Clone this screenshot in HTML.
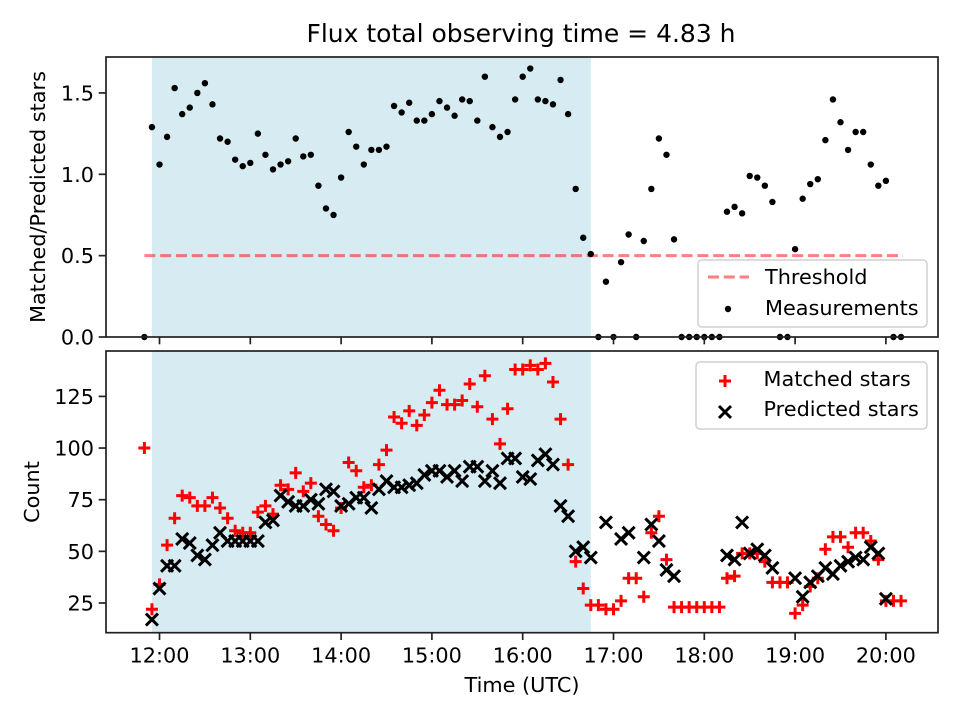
<!DOCTYPE html>
<html><head><meta charset="utf-8"><style>
html,body{margin:0;padding:0;background:#fff;}
svg{display:block;font-family:"DejaVu Sans","Liberation Sans",sans-serif;}
</style></head><body>
<svg id="fig" width="960" height="720" viewBox="0 0 960 720" xmlns="http://www.w3.org/2000/svg"></svg>
<script>
const times = ["11:50","11:55","12:00","12:05","12:10","12:15","12:20","12:25","12:30","12:35","12:40","12:45","12:50","12:55","13:00","13:05","13:10","13:15","13:20","13:25","13:30","13:35","13:40","13:45","13:50","13:55","14:00","14:05","14:10","14:15","14:20","14:25","14:30","14:35","14:40","14:45","14:50","14:55","15:00","15:05","15:10","15:15","15:20","15:25","15:30","15:35","15:40","15:45","15:50","15:55","16:00","16:05","16:10","16:15","16:20","16:25","16:30","16:35","16:40","16:45","16:50","16:55","17:00","17:05","17:10","17:15","17:20","17:25","17:30","17:35","17:40","17:45","17:50","17:55","18:00","18:05","18:10","18:15","18:20","18:25","18:30","18:35","18:40","18:45","18:50","18:55","19:00","19:05","19:10","19:15","19:20","19:25","19:30","19:35","19:40","19:45","19:50","19:55","20:00","20:05","20:10"];
const ratio = [0,1.29,1.06,1.23,1.53,1.37,1.41,1.50,1.56,1.43,1.22,1.20,1.09,1.05,1.07,1.25,1.12,1.03,1.06,1.08,1.22,1.11,1.12,0.93,0.79,0.75,0.98,1.26,1.17,1.06,1.15,1.15,1.17,1.42,1.38,1.44,1.33,1.33,1.37,1.45,1.41,1.36,1.46,1.45,1.33,1.60,1.29,1.23,1.26,1.46,1.60,1.65,1.46,1.45,1.43,1.58,1.37,0.91,0.61,0.51,0,0.34,0,0.46,0.63,0,0.59,0.91,1.22,1.12,0.60,0,0,0,0,0,0,0.77,0.80,0.76,0.99,0.98,0.93,0.83,0,0,0.54,0.85,0.94,0.97,1.21,1.46,1.32,1.15,1.26,1.26,1.06,0.93,0.96,0,0];
const matched = [100,22,34,53,66,77,76,72,72,76,71,66,60,59,59,69,72,68,82,80,88,79,83,67,63,60,71,93,89,81,82,92,99,115,112,118,111,116,122,128,121,121,123,131,120,135,114,102,119,138,138,140,138,141,132,114,92,45,32,24,24,22,22,26,37,37,28,59,67,46,23,23,23,23,23,23,23,37,38,49,49,49,45,35,35,35,20,24,33,37,51,57,57,52,59,59,55,46,26,26,26];
const predicted = [null,17,32,43,43,56,54,48,46,53,59,55,55,55,55,55,64,65,77,74,72,72,75,73,80,79,72,73,76,76,71,80,84,81,81,82,83,87,89,89,86,89,84,91,91,84,89,83,95,95,86,85,94,97,92,72,67,50,52,47,null,64,null,56,59,null,47,63,55,41,38,null,null,null,null,null,null,48,46,64,49,51,48,42,null,null,37,28,35,38,42,39,43,45,47,46,52,49,27,null,null];
const topTicks = [0.0,0.5,1.0,1.5];
const botTicks = [25,50,75,100,125];
const xTicks = ["12:00","13:00","14:00","15:00","16:00","17:00","18:00","19:00","20:00"];
const threshold = 0.5;
const spanStart = "11:55", spanEnd = "16:45";

const NS="http://www.w3.org/2000/svg";
const svg=document.getElementById('fig');
function el(tag,attrs,parent){const e=document.createElementNS(NS,tag);for(const k in attrs)e.setAttribute(k,attrs[k]);(parent||svg).appendChild(e);return e;}
function hrs(t){const p=t.split(':');return +p[0]+ +p[1]/60;}
const L=106,R=938;
const FS='20.8px';
function X(t){return 159.5+(hrs(t)-12)*90.8;}
const TT=57,TB=337; function YT(v){return 337-v*162.7;}
const BT=351,BB=632.7; function YB(v){return 603-(v-25)*2.066;}

let t=el('text',{x:521,y:42,'text-anchor':'middle','font-size':'25px',fill:'#000'});
t.textContent='Flux total observing time = 4.83 h';



function panel(top,bot,name){
  const g=el('g',{});
  
  
  const sp=el('rect',{x:X(spanStart),y:top,width:X(spanEnd)-X(spanStart),height:bot-top,fill:'#add8e6','fill-opacity':0.5},g);
  
  
  return g;
}
function frame(top,bot,g,labels){
  el('rect',{x:L,y:top,width:R-L,height:bot-top,fill:'none',stroke:'#222','stroke-width':1.7},g);
  xTicks.forEach(tk=>{
    const x=X(tk);
    el('line',{x1:x,x2:x,y1:bot,y2:bot+7.3,stroke:'#222','stroke-width':1.7},g);
    if(labels){const tx=el('text',{x:x,y:bot+30,'text-anchor':'middle','font-size':FS},g);tx.textContent=tk;
      
      }
  });
}
const gt=panel(TT,TB,'ratio-panel');
const th=el('line',{x1:X("11:50"),x2:X("20:10")+2,y1:YT(threshold),y2:YT(threshold),stroke:'#ff0000','stroke-opacity':0.5,'stroke-width':3,'stroke-dasharray':'11,4.8'},gt);


ratio.forEach((v,i)=>{
  if(v===null)return;
  const c=el('circle',{cx:X(times[i]),cy:YT(v),r:3.2,fill:'#000'},gt);
  
  
});
frame(TT,TB,gt,false);
topTicks.forEach(v=>{
  const y=YT(v);
  el('line',{x1:L-7.3,x2:L,y1:y,y2:y,stroke:'#222','stroke-width':1.7},gt);
  const tx=el('text',{x:L-12,y:y+7.5,'text-anchor':'end','font-size':FS},gt);tx.textContent=v.toFixed(1);
  
  
});
let yl=el('text',{transform:'translate(45,197) rotate(-90)','text-anchor':'middle','font-size':FS});
yl.textContent='Matched/Predicted stars';



const gb=panel(BT,BB,'count-panel');
function plus(x,y,g){return el('path',{d:`M${x-6},${y}H${x+6}M${x},${y-6}V${y+6}`,stroke:'#ff0000','stroke-width':3,fill:'none'},g);}
function cross(x,y,g){return el('path',{d:`M${x-6},${y-6}L${x+6},${y+6}M${x-6},${y+6}L${x+6},${y-6}`,stroke:'#000','stroke-width':3,fill:'none'},g);}
matched.forEach((v,i)=>{
  if(v===null)return;
  const p=plus(X(times[i]),YB(v),gb);
  
  
});
predicted.forEach((v,i)=>{
  if(v===null)return;
  const p=cross(X(times[i]),YB(v),gb);
  
  
});
frame(BT,BB,gb,true);
botTicks.forEach(v=>{
  const y=YB(v);
  el('line',{x1:L-7.3,x2:L,y1:y,y2:y,stroke:'#222','stroke-width':1.7},gb);
  const tx=el('text',{x:L-12,y:y+7.5,'text-anchor':'end','font-size':FS},gb);tx.textContent=v;
  
  
});
yl=el('text',{transform:'translate(39,492) rotate(-90)','text-anchor':'middle','font-size':FS});
yl.textContent='Count';


let xl=el('text',{x:522,y:692,'text-anchor':'middle','font-size':FS});
xl.textContent='Time (UTC)';



const lg1=el('g',{});


el('rect',{x:698,y:260,width:229,height:67,rx:4,fill:'#fff','fill-opacity':0.8,stroke:'#d0d0d0','stroke-width':1.5},lg1);
el('line',{x1:708,x2:749,y1:277,y2:277,stroke:'#ff0000','stroke-opacity':0.5,'stroke-width':3,'stroke-dasharray':'11,4.8'},lg1);
el('circle',{cx:728,cy:309,r:3.2,fill:'#000'},lg1);
let a=el('text',{x:765,y:284,'font-size':FS},lg1);a.textContent='Threshold';
a=el('text',{x:765,y:315,'font-size':FS},lg1);a.textContent='Measurements';

const lg2=el('g',{});


el('rect',{x:696,y:362,width:231,height:67,rx:4,fill:'#fff','fill-opacity':0.8,stroke:'#d0d0d0','stroke-width':1.5},lg2);
plus(725,381,lg2);
cross(725,412,lg2);
a=el('text',{x:763.5,y:386,'font-size':FS},lg2);a.textContent='Matched stars';
a=el('text',{x:763.5,y:416,'font-size':FS},lg2);a.textContent='Predicted stars';
</script>
</body></html>
